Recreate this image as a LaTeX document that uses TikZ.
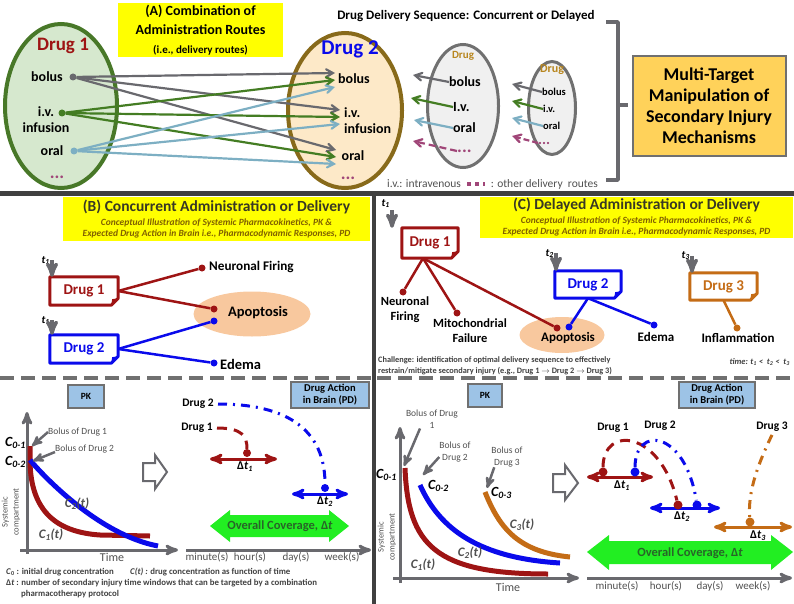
\documentclass[tikz,border=0pt]{standalone}
\usepackage{fontspec}
\setmainfont{Carlito}
\usepackage{tikz}
\usetikzlibrary{arrows}
\usetikzlibrary{shapes.geometric}
\definecolor{drugred}{RGB}{158,20,20}
\definecolor{drugblue}{RGB}{10,10,235}
\definecolor{drugorange}{RGB}{196,108,22}
\definecolor{dgreen}{RGB}{72,120,40}
\definecolor{lgreen}{RGB}{214,232,206}
\definecolor{dgold}{RGB}{136,106,26}
\definecolor{lorange}{RGB}{253,233,200}
\definecolor{egray}{RGB}{112,112,112}
\definecolor{lgray}{RGB}{240,240,240}
\definecolor{goldtxt}{RGB}{184,134,30}
\definecolor{arrgray}{RGB}{105,105,110}
\definecolor{arrgreen}{RGB}{68,125,35}
\definecolor{arrblue}{RGB}{125,175,195}
\definecolor{purp}{RGB}{160,70,120}
\definecolor{hiyellow}{RGB}{255,255,0}
\definecolor{goldbox}{RGB}{255,210,90}
\definecolor{peach}{RGB}{248,200,158}
\definecolor{pkblue}{RGB}{157,195,230}
\definecolor{covgreen}{RGB}{34,238,34}
\definecolor{covtext}{RGB}{40,100,40}
\definecolor{titlec}{RGB}{56,56,36}
\definecolor{subc}{RGB}{128,96,0}
\definecolor{divgray}{RGB}{64,64,64}
\definecolor{txtgray}{RGB}{80,80,80}
\newcommand{\fsz}[1]{\fontsize{#1}{#1}\selectfont}
\tikzset{
  txt/.style={inner sep=0pt, font=\bfseries\fsz{#1}},
  tlab/.style={inner sep=0pt, font=\bfseries\itshape\fsz{11}},
  cz/.style={inner sep=0pt, font=\bfseries\itshape\fsz{14}},
  ct/.style={inner sep=0pt, text=txtgray, font=\bfseries\itshape\fsz{13}},
  blob/.style={circle, fill=#1, inner sep=0pt, minimum size=7pt},
  wire/.style={#1, line width=2.5pt},
  routearr/.style={#1, line width=2.2pt, -angle 60},
  drugbox/.style={text=#1, inner sep=0pt, font=\bfseries\fsz{15}, minimum width=68pt, minimum height=28pt},
  yellowbox/.style={fill=hiyellow, inner sep=0pt, align=center},
  bluebox/.style={fill=pkblue, draw=egray, line width=1.5pt, inner sep=0pt, font=\bfseries\fsz{9.5}},
  tdown/.style={arrgray, line width=3.5pt, ->, >=stealth'},
  bolarr/.style={arrgray, line width=2.5pt, ->, >=stealth'},
  axisline/.style={arrgray, line width=3pt, ->, >=stealth'},
  dtarr/.style={#1, line width=3pt, <->, >=stealth'},
  ticklbl/.style={inner sep=0pt, text=txtgray, font=\fsz{11}},
  bolus/.style={inner sep=0pt, text=txtgray, align=center, font=\fontsize{9.5}{12}\selectfont},
  foot/.style={anchor=west, inner sep=0pt, text=divgray, font=\bfseries\fsz{8.8}},
  hollow/.style={draw=arrgray, fill=white, line width=2pt, line join=miter}
}

\begin{document}
\begin{tikzpicture}[x=1pt, y=-1pt]
\useasboundingbox (0,0) rectangle (794,604);

%% (A) combination of administration routes
\node[ellipse, draw=dgreen, fill=lgreen, line width=4pt, minimum width=112pt, minimum height=164pt] (e1) at (61,106) {};
\node[ellipse, draw=dgold, fill=lorange, line width=4pt, minimum width=114pt, minimum height=155pt] (e2) at (345,110.5) {};
\node[yellowbox, minimum width=165pt, minimum height=54pt, font=\bfseries\fontsize{14}{19}\selectfont] (ya) at (200.5,30)
  {(A) Combination of\\Administration Routes\\{\fsz{11}(i.e., delivery routes)}};

\node[txt=19, text=drugred] (e1t) at (63,46) {Drug 1};
\node[txt=14] (e1b) at (47,77) {bolus};
\node[inner sep=0pt, align=center, font=\bfseries\fontsize{14}{16}\selectfont] (e1i) at (46,120) {i.v.\\infusion};
\node[txt=14] (e1o) at (52,151) {oral};
\node[txt=18, text=purp] (e1d) at (57,177) {...};
\node[blob=arrgray] (d1b) at (73,77) {};
\node[blob=arrgreen] (d1i) at (62,113) {};
\node[blob=arrblue] (d1o) at (74,151) {};

\node[txt=21, text=drugblue] (e2t) at (350,49) {Drug 2};
\node[txt=14] (e2b) at (354,79) {bolus};
\node[inner sep=0pt, align=left, anchor=west, font=\bfseries\fontsize{14}{16}\selectfont] (e2i) at (344,121) {i.v.\\infusion};
\node[txt=14] (e2o) at (353,156) {oral};
\node[txt=18, text=purp] (e2d) at (348,178) {...};

\coordinate (rb) at (335,80);
\coordinate (ri) at (340,117);
\coordinate (ro) at (336,157);
\foreach \s/\c/\o in {d1b/arrgray/7, d1i/arrgreen/0, d1o/arrblue/-7}
  \foreach \t in {rb,ri,ro}
    \draw[routearr=\c] (\s) -- ([yshift=\o pt]\t);

%% delivery sequence
\node[txt=13] (seq) at (466,16) {Drug Delivery Sequence: Concurrent or Delayed};
\node[ellipse, draw=egray, fill=lgray, line width=3pt, minimum width=71pt, minimum height=123pt] (e3) at (463,106) {};
\node[txt=11, text=goldtxt] (e3t) at (463,56) {Drug};
\node[txt=14, anchor=west] (e3b) at (449,82) {bolus};
\node[txt=14, anchor=west] (e3i) at (453,107) {I.v.};
\node[txt=14, anchor=west] (e3o) at (453,128) {oral};
\node[txt=18, text=purp, anchor=west] (e3d) at (457,151) {...};
\draw[routearr=arrgray] (e3b.west) -- ++(-36,-7);
\draw[routearr=arrgreen] (e3i.west) -- ++(-42,-9);
\draw[routearr=arrblue] (e3o.west) -- ++(-39,-8);
\draw[routearr=purp, dash pattern=on 7pt off 4pt] (e3d.west) -- ++(-44,-10);

\node[ellipse, draw=egray, fill=lgray, line width=3pt, minimum width=47pt, minimum height=93pt] (e4) at (552,108) {};
\node[txt=12, text=goldtxt] (e4t) at (552,70) {Drug};
\node[txt=10.5, anchor=west] (e4b) at (542,92) {bolus};
\node[txt=10.5, anchor=west] (e4i) at (543,109) {i.v.};
\node[txt=10.5, anchor=west] (e4o) at (543,126) {oral};
\node[txt=15, text=purp, anchor=west] (e4d) at (538,143) {...};
\draw[routearr=arrgray] (e4b.west) -- ++(-30,-8);
\draw[routearr=arrgreen] (e4i.west) -- ++(-31,-8);
\draw[routearr=arrblue] (e4o.west) -- ++(-31,-8);
\draw[routearr=purp, dash pattern=on 6pt off 3pt] (e4d.west) -- ++(-26,-7);

\node[anchor=west, inner sep=0pt, text=txtgray, font=\fsz{11.5}] (fa1) at (387,184) {i.v.: intravenous};
\node[anchor=east, inner sep=0pt, text=txtgray, font=\fsz{11.5}] (fa2) at (598,184) {: other delivery\ \ routes};
\draw[purp, line width=3.5pt, dash pattern=on 4pt off 4pt] ([xshift=6pt]fa1.east) -- ([xshift=-6pt]fa2.west);

% bracket and target box
\draw[arrgray, line width=3.5pt, line join=round] (606,22) -- (618,22) -- (618,180) -- (606,180);
\draw[arrgray, line width=3.5pt] (618,105) -- (628,105);
\node[draw=egray, fill=goldbox, line width=2pt, minimum width=153pt, minimum height=100pt, align=center,
  font=\bfseries\fontsize{18}{21}\selectfont] (mt) at (709,106) {Multi-Target\\Manipulation of\\Secondary Injury\\Mechanisms};

%% dividers
\draw[divgray, line width=5pt] (0,193) -- (794,193);
\draw[divgray, line width=4pt] (374,193) -- (374,604);
\draw[egray, line width=3.5pt, dash pattern=on 14pt off 7pt] (0,378) -- (372,378);
\draw[egray, line width=3.5pt, dash pattern=on 14pt off 7pt] (377,378) -- (794,378);

%% (B) concurrent
\node[yellowbox, minimum width=307pt, minimum height=44pt, font=\bfseries\fontsize{9.5}{11}\selectfont] (yb) at (216.5,219)
  {{\fsz{15.5}\color{titlec}(B) Concurrent Administration or Delivery}\\[3pt]
   {\itshape\color{subc}Conceptual Illustration of Systemic Pharmacokinetics, PK \&}\\
   {\itshape\color{subc}Expected Drug Action in Brain i.e., Pharmacodynamic Responses, PD}};
\node[tlab, anchor=south east] (tb1) at (50,265) {t\textsubscript{1}};
\node[drugbox=drugred] (b1) at (84,291) {Drug 1};
\node[tlab, anchor=south east] (tb2) at (50,325) {t\textsubscript{1}};
\node[drugbox=drugblue] (b2) at (84,349) {Drug 2};

\node[ellipse, fill=peach, minimum width=117pt, minimum height=45pt] (bap) at (252,314) {};
\node[txt=14.5] (bapt) at (258,313) {Apoptosis};
\node[blob=drugred] (bnf) at (202,268) {};
\node[txt=13.2, anchor=west] (nf) at (209,267) {Neuronal Firing};
\node[blob=drugred] (bap1) at (214,309) {};
\node[blob=drugblue] (bap2) at (214,321) {};
\node[blob=drugblue] (bed) at (214,363) {};
\node[txt=14.5, anchor=west] (edb) at (220,364) {Edema};
\draw[wire=drugred] (b1.east) -- (bnf);
\draw[wire=drugred] (b1.east) -- (bap1);
\draw[wire=drugblue] (b2.east) -- (bap2);
\draw[wire=drugblue] (b2.east) -- (bed);

%% (C) delayed
\node[yellowbox, minimum width=313pt, minimum height=41pt, font=\bfseries\fontsize{9.5}{11}\selectfont] (yc) at (636.5,217.5)
  {{\fsz{15.5}\color{titlec}(C) Delayed Administration or Delivery}\\[3pt]
   {\itshape\color{subc}Conceptual Illustration of Systemic Pharmacokinetics, PK \&}\\
   {\itshape\color{subc}Expected Drug Action in Brain i.e., Pharmacodynamic Responses, PD}};
\node[tlab, anchor=south east] (tc1) at (390,208) {t\textsubscript{1}};
\node[drugbox=drugred, minimum width=56pt, minimum height=30pt] (c1) at (430,243) {Drug 1};
\node[tlab, anchor=south east] (tc2) at (554,258) {t\textsubscript{2}};
\node[drugbox=drugblue, minimum width=66pt, minimum height=27pt] (c2) at (588,284.5) {Drug 2};
\node[tlab, anchor=south east] (tc3) at (690,260) {t\textsubscript{3}};
\node[drugbox=drugorange, minimum width=67pt, minimum height=27pt] (c3) at (723.5,286.5) {Drug 3};

\node[ellipse, fill=peach, minimum width=85pt, minimum height=36pt] (cap) at (562,335) {};
\node[txt=13] (capt) at (568,338) {Apoptosis};
\node[blob=drugred] (cnf) at (403,292) {};
\node[blob=drugred] (cmf) at (457,313) {};
\node[blob=drugred] (cap1) at (557,328) {};
\node[blob=drugblue] (cap2) at (569,327) {};
\node[blob=drugblue] (ced) at (654,325) {};
\node[blob=drugorange] (cin) at (737,328) {};
\node[inner sep=0pt, align=center, font=\bfseries\fontsize{12.5}{15}\selectfont] (cnft) at (405,310) {Neuronal\\Firing};
\node[inner sep=0pt, align=center, font=\bfseries\fontsize{12.5}{15}\selectfont] (cmft) at (470,331) {Mitochondrial\\Failure};
\node[txt=13] (cedt) at (656,337) {Edema};
\node[txt=13] (cint) at (738,338) {Inflammation};
\draw[wire=drugred] ([xshift=-7pt]c1.south) -- (cnf);
\draw[wire=drugred] ([xshift=-7pt]c1.south) -- (cmf);
\draw[wire=drugred] ([xshift=-7pt]c1.south) -- (cap1);
\draw[wire=drugblue] (c2.south) -- (cap2);
\draw[wire=drugblue] (c2.south) -- (ced);
\draw[wire=drugorange] (c3.south) -- (cin);

% drug boxes with folded corner, and time arrows
\foreach \n/\c in {b1/drugred, b2/drugblue, c1/drugred, c2/drugblue, c3/drugorange} {
  \draw[\c, line width=3pt, line join=round] (\n.north west) -- (\n.north east) -- ([yshift=7pt]\n.south east)
    -- ([xshift=-7pt]\n.south east) -- (\n.south west) -- cycle;
  \fill[\c] ([yshift=7pt]\n.south east) -- ([xshift=-7pt]\n.south east) -- ([xshift=-6pt,yshift=6pt]\n.south east) -- cycle;
}
\foreach \t/\b/\s in {tb1/b1/5, tb2/b2/5, tc1/c1/-2, tc2/c2/5, tc3/c3/4}
  \draw[tdown] ([xshift=2pt,yshift=\s pt]\t.south east) -- ([xshift=2pt]\t.south east |- \b.north);

\node[anchor=west, inner sep=0pt, align=left, text=divgray, font=\bfseries\fontsize{8.3}{10.5}\selectfont] (chal) at (378,366)
  {Challenge: identification of optimal delivery sequence to effectively\\
   restrain/mitigate secondary injury (e.g., Drug 1 $\rightarrow$ Drug 2 $\rightarrow$ Drug 3)};
\node[anchor=east, inner sep=0pt, text=divgray, font=\bfseries\itshape\fsz{8.5}] (tord) at (790,362)
  {time: t\textsubscript{1} <\ \ t\textsubscript{2} <\ \ t\textsubscript{3}};

%% PK / PD, concurrent
\node[bluebox, minimum width=36pt, minimum height=23pt] (pk1) at (86,396.5) {PK};
\node[bluebox, minimum width=78pt, minimum height=26pt, align=center, font=\bfseries\fontsize{10.5}{12}\selectfont] (pd1) at (330,395) {Drug Action\\in Brain (PD)};
\draw[axisline] (27,554) -- (27,412);
\draw[axisline] (20,550) -- (178,550);
\node[ticklbl, font=\fsz{12}] (time1) at (112,557) {Time};
\node[rotate=90, inner sep=0pt, align=center, text=txtgray, font=\fontsize{8.5}{11}\selectfont] (sc1) at (11,512) {Systemic\\compartment};
\node[cz, anchor=west] (c01) at (5,443) {C\textsubscript{0-1}};
\node[cz, anchor=west] (c02) at (5,462) {C\textsubscript{0-2}};
\draw[drugred, line width=5pt] (30,446) -- (30,462) .. controls (31,510) and (55,532) .. (100,535) -- (150,536);
\draw[drugblue, line width=5pt] (30,460) .. controls (45,478) and (100,535) .. (158,546);
\node[ct] (c2t) at (77,504) {C\textsubscript{2}(t)};
\node[ct] (c1t) at (51,535) {C\textsubscript{1}(t)};
\node[bolus, anchor=west] (bo1) at (48,432) {Bolus of Drug 1};
\node[bolus, anchor=west] (bo2) at (55,449) {Bolus of Drug 2};
\coordinate (top1) at (32,446);
\coordinate (top2) at (33,461);
\draw[bolarr] (bo1.west) -- (top1);
\draw[bolarr] ([yshift=-3pt]bo2.west) -- (top2);
\draw[hollow] (143,463) -- (155,463) -- (155,455) -- (167,472) -- (155,489) -- (155,481) -- (143,481) -- cycle;

\coordinate (a1l) at (210,459);
\coordinate (a1r) at (277,459);
\coordinate (a2l) at (292,494);
\coordinate (a2r) at (348,494);
\draw[dtarr=drugred] (a1l) -- (a1r);
\draw[dtarr=drugblue] (a2l) -- (a2r);
\node[txt=11.5, anchor=east] (pd2l) at (214,404) {Drug 2};
\node[txt=11.5, anchor=east] (pd1l) at (213,428) {Drug 1};
\node[blob=drugred, minimum size=8pt] (pdr1) at (247,453) {};
\node[blob=drugblue, minimum size=8pt] (pdb1) at (325,488) {};
\draw[drugred, line width=3pt, dash pattern=on 10pt off 7pt] ([xshift=4pt]pd1l.east) .. controls (242,428) and (247,436) .. (pdr1);
\draw[drugblue, line width=3pt, dash pattern=on 9pt off 6pt on 2pt off 6pt] ([xshift=4pt]pd2l.east) .. controls (300,404) and (325,440) .. (pdb1);
\node[txt=12] (dt1) at (245,467) {Δ\textit{t}\textsubscript{\textit{1}}};
\node[txt=12] (dt2) at (325,502) {Δ\textit{t}\textsubscript{\textit{2}}};
\fill[covgreen] (210,526) -- (230,510) -- (230,515) -- (329,515) -- (329,510) -- (349,526) -- (329,542) -- (329,537) -- (230,537) -- (230,542) -- cycle;
\node[txt=12.5, text=covtext] (cov1) at (280,526) {Overall Coverage, Δ\textit{t}};
\draw[axisline] (186,550) -- (371,550);
\foreach \x/\l in {207/minute(s), 250/hour(s), 296/day(s), 342/week(s)}
  \node[ticklbl] (u\x) at (\x,557) {\l};

\node[foot] (fn1) at (6,572) {\textit{C}\textsubscript{0} : initial drug concentration};
\node[foot] (fn2) at (130,572) {\textit{C(t) :} drug concentration as function of time};
\node[foot] (fn3) at (6,583) {Δ\textit{t} : number of secondary injury time windows that can be targeted by a combination};
\node[foot] (fn4) at (21,594) {pharmacotherapy protocol};

%% PK / PD, delayed
\node[bluebox, minimum width=34pt, minimum height=23pt] (pk2) at (485,395.5) {PK};
\node[bluebox, minimum width=76pt, minimum height=26pt, align=center, font=\bfseries\fontsize{10.5}{12}\selectfont] (pd2) at (717,395) {Drug Action\\in Brain (PD)};
\draw[axisline] (400,583) -- (400,427);
\draw[axisline] (393,578) -- (579,578);
\node[ticklbl, font=\fsz{12}] (time2) at (508,587) {Time};
\node[rotate=90, inner sep=0pt, align=center, text=txtgray, font=\fontsize{8.5}{11}\selectfont] (sc2) at (387,537) {Systemic\\compartment};
\draw[drugred, line width=5pt] (405,468) .. controls (408,545) and (435,574) .. (548,574);
\draw[drugblue, line width=5pt] (420,485) .. controls (440,530) and (480,558) .. (560,563);
\draw[drugorange, line width=5pt] (485,492) .. controls (500,530) and (520,552) .. (570,557);
\node[cz, anchor=west] (c01r) at (376,475) {C\textsubscript{0-1}};
\node[cz, anchor=west] (c02r) at (428,486) {C\textsubscript{0-2}};
\node[cz, anchor=west] (c03r) at (491,493) {C\textsubscript{0-3}};
\node[ct] (c3r) at (522,525) {C\textsubscript{3}(t)};
\node[ct] (c2r) at (470,553) {C\textsubscript{2}(t)};
\node[ct] (c1r) at (423,565) {C\textsubscript{1}(t)};
\node[bolus] (bd1) at (432,419) {Bolus of Drug\\1};
\node[bolus] (bd2) at (455,452) {Bolus of\\Drug 2};
\node[bolus] (bd3) at (507,457) {Bolus of\\Drug 3};
\coordinate (rtop1) at (404,466);
\coordinate (rtop2) at (423,475);
\coordinate (rtop3) at (487,488);
\draw[bolarr] ([xshift=-12pt]bd1.south) -- (rtop1);
\draw[bolarr] ([yshift=-5pt]bd2.west) -- (rtop2);
\draw[bolarr] ([xshift=3pt]bd3.south west) -- (rtop3);
\draw[hollow] (553,474) -- (565,474) -- (565,465) -- (578,483) -- (565,500) -- (565,492) -- (553,492) -- cycle;

\coordinate (q1l) at (587,477);
\coordinate (q1r) at (653,477);
\coordinate (q2l) at (650,508);
\coordinate (q2r) at (720,508);
\coordinate (q3l) at (714,527);
\coordinate (q3r) at (792,527);
\draw[dtarr=drugred] (q1l) -- (q1r);
\draw[dtarr=drugblue] (q2l) -- (q2r);
\draw[dtarr=drugorange] (q3l) -- (q3r);
\node[txt=11.5] (r1l) at (613,428) {Drug 1};
\node[txt=11.5] (r2l) at (660,426) {Drug 2};
\node[txt=11.5] (r3l) at (772,427) {Drug 3};
\node[blob=drugred, minimum size=9pt] (rr1) at (603,472) {};
\node[blob=drugblue, minimum size=9pt] (rb1) at (635,472) {};
\node[blob=drugred, minimum size=9pt] (rr2) at (678,505) {};
\node[blob=drugblue, minimum size=9pt] (rb2) at (697,505) {};
\node[blob=drugorange, minimum size=9pt] (ro3) at (750,522) {};
\draw[drugred, line width=3pt, dash pattern=on 10pt off 7pt] (rr1) .. controls (603,425) and (660,430) .. (rr2);
\draw[drugblue, line width=3pt, dash pattern=on 9pt off 6pt on 2pt off 6pt] (rb1) .. controls (635,425) and (685,430) .. (rb2);
\draw[drugorange, line width=3pt, dash pattern=on 9pt off 6pt on 2pt off 6pt] ([yshift=-3pt]r3l.south) .. controls (755,470) and (748,495) .. (ro3);
\node[txt=12] (dt1r) at (622,486) {Δ\textit{t}\textsubscript{\textit{1}}};
\node[txt=12] (dt2r) at (682,517) {Δ\textit{t}\textsubscript{\textit{2}}};
\node[txt=12] (dt3r) at (758,536) {Δ\textit{t}\textsubscript{\textit{3}}};
\fill[covgreen] (587,552) -- (609,535) -- (609,541) -- (771,541) -- (771,535) -- (793,552) -- (771,570) -- (771,564) -- (609,564) -- (609,570) -- cycle;
\node[txt=12.5, text=covtext] (cov2) at (690,553) {Overall Coverage, Δ\textit{t}};
\draw[axisline] (587,578) -- (792,578);
\foreach \x/\l in {617/minute(s), 666/hour(s), 710/day(s), 753/week(s)}
  \node[ticklbl] (v\x) at (\x,586) {\l};
\end{tikzpicture}
\end{document}
